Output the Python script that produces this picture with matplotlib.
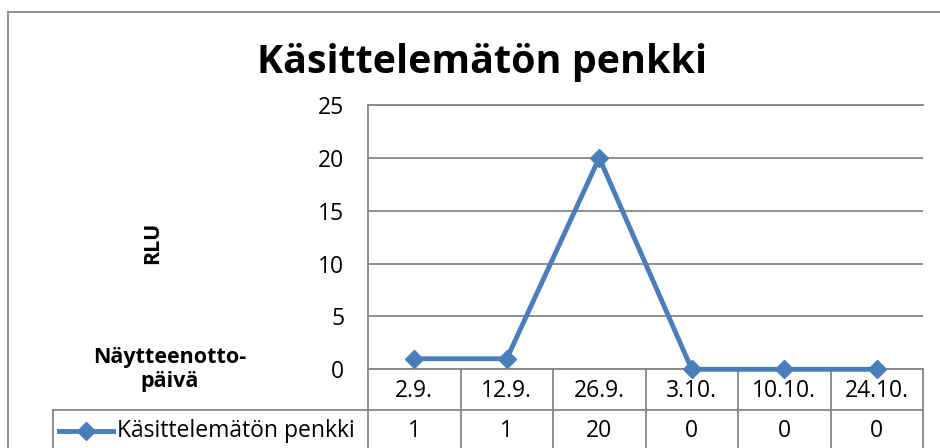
import matplotlib
matplotlib.use("Agg")
import matplotlib.pyplot as plt
from matplotlib.lines import Line2D
import matplotlib.transforms as mtransforms

plt.rcParams['font.family'] = ['Open Sans', 'DejaVu Sans']

title = "Käsittelemätön penkki"
series_name = "Käsittelemätön penkki"
categories = ["2.9.", "12.9.", "26.9.", "3.10.", "10.10.", "24.10."]
values = [1, 1, 20, 0, 0, 0]
yticks = [0, 5, 10, 15, 20, 25]
ylabel = "RLU"
xlabel = "Näytteenotto-\npäivä"

W, H = 940, 448
fig = plt.figure(figsize=(W / 100, H / 100), dpi=100)
fig.patch.set_facecolor('white')

grid_c = '#868686'
line_c = '#4A7EBB'
fs = 16.5

# Outer chart border (top & left)
fig.add_artist(Line2D([8 / W, 1.0], [1 - 12 / H, 1 - 12 / H], transform=fig.transFigure, color=grid_c, lw=1.3))
fig.add_artist(Line2D([8 / W, 8 / W], [1 - 12 / H, 0], transform=fig.transFigure, color=grid_c, lw=1.3))

L, R, T, B = 368, 923, 105, 369.3
ax = fig.add_axes([L / W, 1 - B / H, (R - L) / W, (B - T) / H])
n = len(categories)
x = list(range(n))
ax.set_xlim(-0.5, n - 0.5)
ax.set_ylim(0, 25)
ax.set_yticks(yticks)
ax.set_xticks([])
ax.tick_params(axis='y', length=0, pad=17, labelsize=fs)
ax.yaxis.grid(True, color=grid_c, lw=1.3)
ax.set_axisbelow(True)
for s in ['left', 'top', 'bottom']:
    ax.spines[s].set_color(grid_c)
    ax.spines[s].set_linewidth(1.3)
ax.spines['right'].set_visible(False)

ax.plot(x, values, color=line_c, lw=3.5, marker='D', ms=9, clip_on=False, zorder=5)

fig.text(482 / W, 1 - 63 / H, title, ha='center', va='center', fontsize=28.4, fontweight='bold')
fig.text(153 / W, 1 - 243 / H, ylabel, ha='center', va='center', rotation=90, fontsize=15.5, fontweight='bold')
fig.text(170 / W, 1 - 357 / H, xlabel.split("\n")[0], ha='center', va='center', fontsize=15.5, fontweight='bold')
fig.text(170 / W, 1 - 382 / H, xlabel.split("\n")[1], ha='center', va='center', fontsize=15.5, fontweight='bold')

# Data table
ah = B - T
def ay(py):
    return (B - py) / ah
blend = mtransforms.blended_transform_factory(ax.transData, ax.transAxes)
row1 = ay(410)
bot = ay(460)
for i in range(n + 1):
    ax.add_line(Line2D([i - 0.5, i - 0.5], [0, bot], transform=blend, color=grid_c, lw=1.3, clip_on=False))
leg_left = (53 - L) / (R - L)
ax.add_line(Line2D([leg_left, 1], [row1, row1], transform=ax.transAxes, color=grid_c, lw=1.3, clip_on=False))
ax.add_line(Line2D([leg_left, leg_left], [row1, bot], transform=ax.transAxes, color=grid_c, lw=1.3, clip_on=False))
for i, (c, v) in enumerate(zip(categories, values)):
    ax.text(i, ay(391), c, transform=blend, ha='center', va='center', fontsize=fs)
    ax.text(i, ay(431), str(v), transform=blend, ha='center', va='center', fontsize=fs)
# legend key
kx0, kx1 = (59 - L) / (R - L), (113 - L) / (R - L)
ax.add_line(Line2D([kx0, kx1], [ay(431), ay(431)], transform=ax.transAxes, color=line_c, lw=3.5, clip_on=False))
ax.add_line(Line2D([(kx0 + kx1) / 2], [ay(431)], transform=ax.transAxes, color=line_c, marker='D', ms=9, lw=0, clip_on=False))
ax.text((117 - L) / (R - L), ay(431), series_name, transform=ax.transAxes, ha='left', va='center', fontsize=fs)

fig.savefig('out.png', dpi=100, facecolor='white')
